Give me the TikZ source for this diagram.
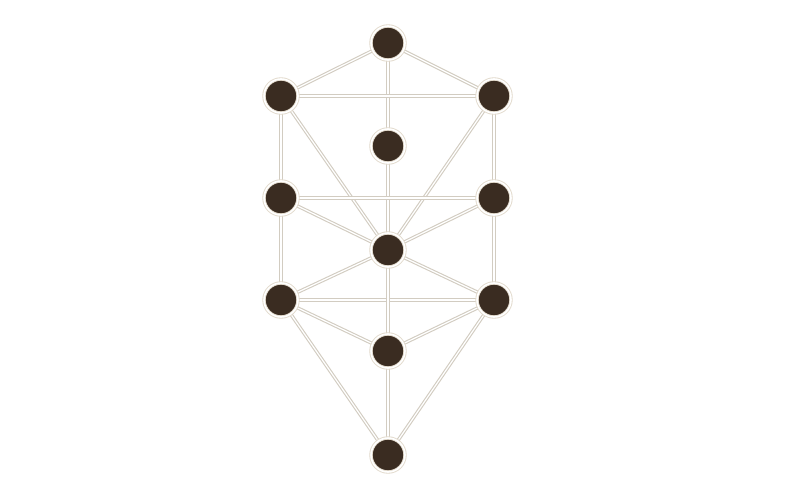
\documentclass[tikz,border=0pt]{standalone}
\definecolor{pathc}{HTML}{D2CCC1}
\definecolor{sefc}{HTML}{3A2C21}
\definecolor{ringc}{HTML}{E2DACC}
\begin{document}
\begin{tikzpicture}[x=1pt,y=-1pt,
  pathline/.style={draw=pathc, double=white, line width=1.1pt, double distance=1.2pt},
  sefira/.style={circle, fill=sefc, draw=ringc, double=white, line width=0.9pt, double distance=1.6pt, minimum size=34pt, inner sep=0pt}]
\useasboundingbox (0,0) rectangle (800,500);
\fill[white] (0,0) rectangle (800,500);
\coordinate (Ke) at (388,43);
\coordinate (Bi) at (281,96);
\coordinate (Ch) at (494,96);
\coordinate (Da) at (388,146);
\coordinate (Ge) at (281,198);
\coordinate (Cs) at (494,198);
\coordinate (Ti) at (388,250);
\coordinate (Ho) at (281,300);
\coordinate (Ne) at (494,300);
\coordinate (Ye) at (388,351);
\coordinate (Ma) at (388,455);
\foreach \a/\b in {Ke/Ch,Ke/Bi,Ke/Ti,Ch/Bi,Ch/Cs,Bi/Ge,Ch/Ti,Bi/Ti,Cs/Ge,Cs/Ti,Ge/Ti,Cs/Ne,Ge/Ho,Ti/Ne,Ti/Ho,Ne/Ho,Ti/Ye,Ne/Ye,Ho/Ye,Ne/Ma,Ho/Ma,Ye/Ma}
  \draw[pathline] (\a) -- (\b);
\foreach \n in {Ke,Bi,Ch,Da,Ge,Cs,Ti,Ho,Ne,Ye,Ma}
  \node[sefira] (n\n) at (\n) {};
\end{tikzpicture}
\end{document}
